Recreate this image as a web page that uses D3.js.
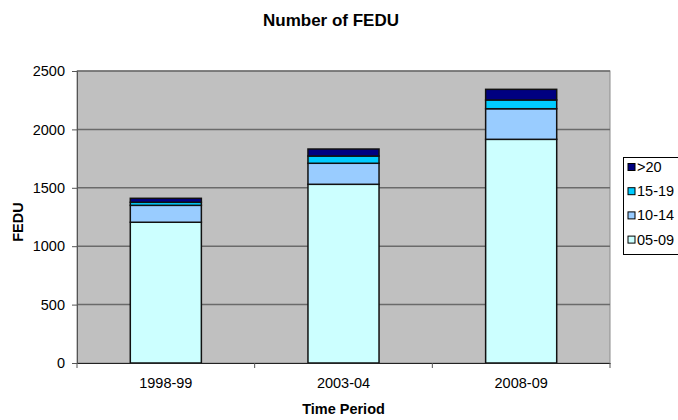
<!DOCTYPE html>
<html>
<head>
<meta charset="utf-8">
<script src="https://cdn.jsdelivr.net/npm/d3@7"></script>
<style>
  body { margin: 0; background: #fff; }
  text { font-family: Arial, "Liberation Sans", sans-serif; fill: #000; }
  .title { font-size: 17px; font-weight: bold; }
  .axisLabel { font-size: 14.5px; font-weight: bold; }
  .tick text { font-size: 14.5px; }
  .legend text { font-size: 14.5px; }
</style>
</head>
<body>
<div id="chart"></div>
<script>
var periods = ["1998-99", "2003-04", "2008-09"];
var groups = ["05-09", "10-14", "15-19", ">20"];
var v0509 = [1205, 1530, 1915];
var v1014 = [145, 180, 262];
var v1519 = [26, 62, 75];
var vOver20 = [34, 60, 91];
var yTicks = [0, 500, 1000, 1500, 2000, 2500];
var colors = ["#ccffff", "#99ccff", "#00ccff", "#000080"];

var width = 678, height = 420;
var margin = {top: 71, left: 77, right: 68, bottom: 57};

var svg = d3.select("#chart")
    .append("svg")
    .attr("width", width)
    .attr("height", height);

var data = periods.map(function(p, i) {
    return {period: p, "05-09": v0509[i], "10-14": v1014[i], "15-19": v1519[i], ">20": vOver20[i]};
});
var stacked = d3.stack().keys(groups)(data);

var xScale = d3.scaleBand()
    .domain(periods)
    .range([margin.left, width - margin.right])
    .paddingInner(0.6)
    .paddingOuter(0.3);

var yScale = d3.scaleLinear()
    .domain([0, 2500])
    .range([height - margin.bottom, margin.top]);

var colorScale = d3.scaleOrdinal().domain(groups).range(colors);

// plot background
svg.append("rect")
    .attr("x", margin.left)
    .attr("y", margin.top)
    .attr("width", width - margin.right - margin.left)
    .attr("height", height - margin.bottom - margin.top)
    .attr("fill", "#c0c0c0")
    .attr("stroke", "#8c8c8c")
    .attr("stroke-width", 1);

// gridlines
svg.append("g")
    .selectAll("line")
    .data(yTicks.slice(1))
    .enter()
    .append("line")
      .attr("x1", margin.left)
      .attr("x2", width - margin.right)
      .attr("y1", function(d) { return yScale(d); })
      .attr("y2", function(d) { return yScale(d); })
      .attr("stroke", "#6a6a6a")
      .attr("stroke-width", 1.5);

// bars
svg.append("g")
    .selectAll("g")
    .data(stacked)
    .enter()
    .append("g")
      .attr("fill", function(d) { return colorScale(d.key); })
    .selectAll("rect")
    .data(function(d) { return d; })
    .enter()
    .append("rect")
      .attr("x", function(d) { return xScale(d.data.period); })
      .attr("y", function(d) { return yScale(d[1]); })
      .attr("width", xScale.bandwidth())
      .attr("height", function(d) { return yScale(d[0]) - yScale(d[1]); })
      .attr("stroke", "#111")
      .attr("stroke-width", 1.5);

// y axis
var yAxis = svg.append("g")
    .attr("transform", `translate(${margin.left},0)`)
    .call(d3.axisLeft(yScale).tickValues(yTicks).tickFormat(d3.format("d")).tickSize(5).tickPadding(7));
yAxis.selectAll("line, path").attr("stroke", "#555");

// x axis with ticks at category boundaries
var bounds = [0, 1, 2, 3].map(function(i) { return margin.left + i * (width - margin.left - margin.right) / 3; });
var xAxis = svg.append("g")
    .attr("transform", `translate(0,${height - margin.bottom})`)
    .call(d3.axisBottom(xScale).tickSize(0).tickPadding(15));
xAxis.select("path").attr("stroke", "#222").attr("stroke-width", 1.2);
xAxis.selectAll(".bound")
    .data(bounds)
    .enter()
    .append("line")
      .attr("x1", function(d) { return d; })
      .attr("x2", function(d) { return d; })
      .attr("y1", 0)
      .attr("y2", 5)
      .attr("stroke", "#555");

svg.append("text")
    .attr("class", "title")
    .attr("x", 331)
    .attr("y", 26)
    .attr("text-anchor", "middle")
    .text("Number of FEDU");

svg.append("text")
    .attr("class", "axisLabel")
    .attr("x", (margin.left + width - margin.right) / 2)
    .attr("y", 414)
    .attr("text-anchor", "middle")
    .text("Time Period");

svg.append("text")
    .attr("class", "axisLabel")
    .attr("transform", "rotate(-90)")
    .attr("x", -222)
    .attr("y", 23)
    .attr("text-anchor", "middle")
    .text("FEDU");

// legend
var legend = svg.append("g").attr("class", "legend");
legend.append("rect")
    .attr("x", 623.5)
    .attr("y", 157.5)
    .attr("width", 60)
    .attr("height", 97)
    .attr("fill", "#fff")
    .attr("stroke", "#000");

var legendKeys = groups.slice().reverse();
legend.selectAll(".sw")
    .data(legendKeys)
    .enter()
    .append("rect")
      .attr("x", 628)
      .attr("y", function(d, i) { return 167 + i * 24.2 - 3.5; })
      .attr("width", 7)
      .attr("height", 7)
      .attr("fill", function(d) { return colorScale(d); })
      .attr("stroke", "#000");

legend.selectAll(".lbl")
    .data(legendKeys)
    .enter()
    .append("text")
      .attr("x", 637)
      .attr("y", function(d, i) { return 167 + i * 24.2; })
      .attr("dy", "0.35em")
      .text(function(d) { return d; });
</script>
</body>
</html>
